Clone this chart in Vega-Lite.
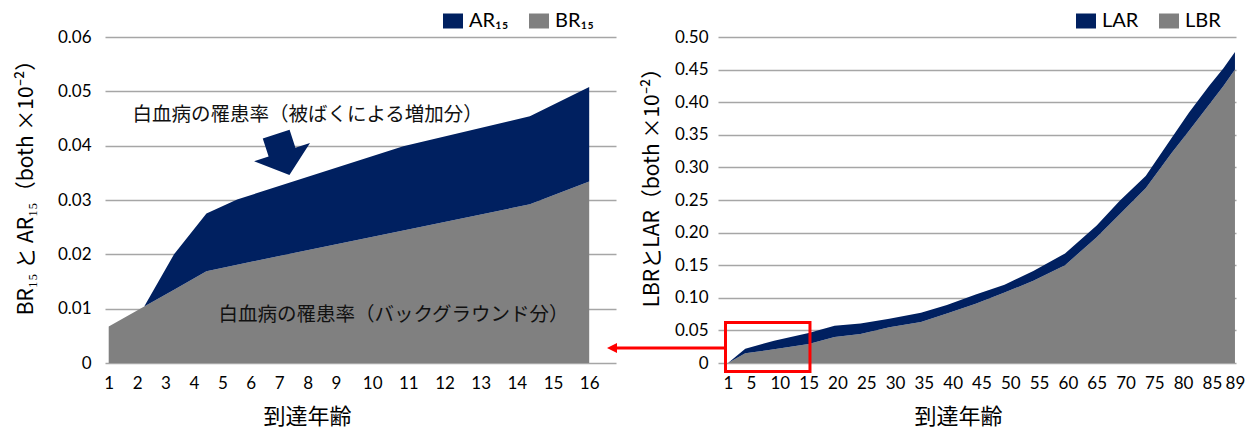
{
  "$schema": "https://vega.github.io/schema/vega-lite/v6.json",
  "background": "white",
  "padding": {"left": 15, "top": 11, "right": 5, "bottom": 5},
  "bounds": "flush",
  "spacing": 102,
  "config": {
    "view": {"stroke": null},
    "font": "Lato",
    "axis": {
      "labelFont": "Lato",
      "labelFontSize": 17,
      "labelColor": "#000000",
      "titleFont": "Noto Sans CJK JP",
      "titleFontWeight": "normal",
      "titleColor": "#000000",
      "gridColor": "#a6a6a6",
      "gridWidth": 1.5,
      "domain": false,
      "ticks": false,
      "tickSize": 0,
      "labelFlush": false,
      "labelOverlap": false
    },
    "legend": {
      "orient": "none",
      "direction": "horizontal",
      "title": null,
      "padding": 0,
      "symbolType": "M-1,-0.75H1V0.75H-1Z",
      "symbolSize": 400,
      "symbolStrokeWidth": 0,
      "symbolOpacity": 1,
      "labelFont": "Lato",
      "labelFontSize": 20,
      "labelColor": "#000000",
      "labelOffset": 6,
      "columnPadding": 20
    }
  },
  "resolve": {"scale": {"color": "independent"}, "legend": {"color": "independent"}},
  "hconcat": [
    {
      "width": 511,
      "height": 326,
      "data": {"values": [
        {"age": 1, "BR": 0.0067, "AR": 0},
        {"age": 2.25, "BR": 0.0104, "AR": 0},
        {"age": 3.3, "BR": 0.0135, "AR": 0.0065},
        {"age": 4.44, "BR": 0.0169, "AR": 0.0106},
        {"age": 5.52, "BR": 0.0181, "AR": 0.0120},
        {"age": 10.86, "BR": 0.0244, "AR": 0.0155},
        {"age": 14.36, "BR": 0.0292, "AR": 0.0162},
        {"age": 16, "BR": 0.0334, "AR": 0.0174}
      ]},
      "layer": [
        {
          "transform": [{"fold": ["BR", "AR"], "as": ["series", "value"]}],
          "mark": {"type": "area", "opacity": 1},
          "encoding": {
            "x": {
              "field": "age", "type": "quantitative",
              "scale": {"domain": [0.87, 1, 9, 16, 16.74], "range": [0, 3.7, 231, 484.2, 511], "nice": false, "zero": false},
              "axis": {
                "values": [1, 2, 3, 4, 5, 6, 7, 8, 9, 10, 11, 12, 13, 14, 15, 16],
                "tickCount": 100,
                "format": "d",
                "labelOverlap": false,
                "grid": false,
                "labelPadding": 12,
                "title": "到達年齢",
                "titleFontSize": 22,
                "titleX": 202,
                "titleY": 53,
                "titleBaseline": "middle"
              }
            },
            "y": {
              "field": "value", "type": "quantitative", "stack": "zero",
              "scale": {"domain": [0, 0.06], "nice": false},
              "axis": {
                "values": [0, 0.01, 0.02, 0.03, 0.04, 0.05, 0.06],
                "tickCount": 100,
                "labelOverlap": false,
                "labelExpr": "datum.value == 0 ? '0' : format(datum.value, '.2f')",
                "labelPadding": 14,
                "title": "BR₁₅ と AR₁₅（both ×10⁻²）",
                "titleFontSize": 21,
                "titleAngle": -90,
                "titleX": -79,
                "titleY": 145,
                "titleBaseline": "middle"
              }
            },
            "color": {
              "field": "series", "type": "nominal",
              "scale": {"domain": ["AR", "BR"], "range": ["#002060", "#808080"]},
              "legend": {"legendX": 338, "legendY": -26, "labelExpr": "datum.label + '₁₅'"}
            },
            "order": {"field": "series", "sort": "descending"}
          }
        },
        {
          "data": {"values": [
            {"age": 8.0, "value": 0.0457, "label": "白血病の罹患率（被ばくによる増加分）"},
            {"age": 10.59, "value": 0.00875, "label": "白血病の罹患率（バックグラウンド分）"}
          ]},
          "mark": {"type": "text", "font": "Noto Sans CJK JP", "fontSize": 19.5, "color": "#111111", "align": "center", "baseline": "middle"},
          "encoding": {
            "x": {"field": "age", "type": "quantitative"},
            "y": {"field": "value", "type": "quantitative"},
            "text": {"field": "label"}
          }
        },
        {
          "data": {"values": [{"age": 7.1, "value": 0.0388}]},
          "mark": {"type": "point", "shape": "M -0.47 -0.63 L 0.47 -0.63 L 0.47 0 L 0.98 0 L 0 0.8 L -0.98 0 L -0.47 0 Z", "filled": true, "size": 3600, "angle": -18, "color": "#002060", "opacity": 1, "strokeWidth": 0},
          "encoding": {
            "x": {"field": "age", "type": "quantitative"},
            "y": {"field": "value", "type": "quantitative"}
          }
        }
      ]
    },
    {
      "width": 518,
      "height": 326,
      "data": {"values": [
        {"age": 1, "LBR": 0, "LAR": 0},
        {"age": 4, "LBR": 0.015, "LAR": 0.007},
        {"age": 9, "LBR": 0.021, "LAR": 0.013},
        {"age": 15, "LBR": 0.029, "LAR": 0.017},
        {"age": 19.5, "LBR": 0.040, "LAR": 0.017},
        {"age": 24, "LBR": 0.0445, "LAR": 0.016},
        {"age": 29, "LBR": 0.055, "LAR": 0.013},
        {"age": 34.5, "LBR": 0.063, "LAR": 0.014},
        {"age": 39, "LBR": 0.076, "LAR": 0.013},
        {"age": 44, "LBR": 0.091, "LAR": 0.014},
        {"age": 49, "LBR": 0.108, "LAR": 0.012},
        {"age": 54, "LBR": 0.126, "LAR": 0.015},
        {"age": 59.5, "LBR": 0.150, "LAR": 0.018},
        {"age": 65, "LBR": 0.193, "LAR": 0.018},
        {"age": 69, "LBR": 0.228, "LAR": 0.021},
        {"age": 73.5, "LBR": 0.268, "LAR": 0.019},
        {"age": 78, "LBR": 0.322, "LAR": 0.023},
        {"age": 81, "LBR": 0.356, "LAR": 0.028},
        {"age": 84.5, "LBR": 0.396, "LAR": 0.029},
        {"age": 87, "LBR": 0.425, "LAR": 0.027},
        {"age": 89, "LBR": 0.450, "LAR": 0.027}
      ]},
      "layer": [
        {
          "transform": [{"fold": ["LBR", "LAR"], "as": ["series", "value"]}],
          "mark": {"type": "area", "opacity": 1},
          "encoding": {
            "x": {
              "field": "age", "type": "quantitative",
              "scale": {"domain": [-0.736, 89.18], "nice": false, "zero": false},
              "axis": {
                "values": [1, 5, 10, 15, 20, 25, 30, 35, 40, 45, 50, 55, 60, 65, 70, 75, 80, 85, 89],
                "tickCount": 100,
                "format": "d",
                "labelOverlap": false,
                "grid": false,
                "labelPadding": 12,
                "title": "到達年齢",
                "titleFontSize": 22,
                "titleX": 240,
                "titleY": 53,
                "titleBaseline": "middle"
              }
            },
            "y": {
              "field": "value", "type": "quantitative", "stack": "zero",
              "scale": {"domain": [0, 0.5], "nice": false},
              "axis": {
                "values": [0, 0.05, 0.1, 0.15, 0.2, 0.25, 0.3, 0.35, 0.4, 0.45, 0.5],
                "tickCount": 100,
                "labelOverlap": false,
                "labelExpr": "datum.value == 0 ? '0' : format(datum.value, '.2f')",
                "labelPadding": 10,
                "title": "LBRとLAR（both ×10⁻²）",
                "titleFontSize": 21,
                "titleAngle": -90,
                "titleX": -66,
                "titleY": 145,
                "titleBaseline": "middle"
              }
            },
            "color": {
              "field": "series", "type": "nominal",
              "scale": {"domain": ["LAR", "LBR"], "range": ["#002060", "#808080"]},
              "legend": {"legendX": 358, "legendY": -26}
            },
            "order": {"field": "series", "sort": "descending"}
          }
        },
        {
          "data": {"values": [{"age": 0.566, "age2": 15.23, "value": -0.013, "value2": 0.0621}]},
          "mark": {"type": "rect", "fillOpacity": 0, "stroke": "#ff0000", "strokeWidth": 3},
          "encoding": {
            "x": {"field": "age", "type": "quantitative"},
            "x2": {"field": "age2"},
            "y": {"field": "value", "type": "quantitative"},
            "y2": {"field": "value2"}
          }
        },
        {
          "data": {"values": [{"age": -19.14, "age2": 0.566, "value": 0.023}]},
          "mark": {"type": "rule", "color": "#ff0000", "strokeWidth": 3},
          "encoding": {
            "x": {"field": "age", "type": "quantitative"},
            "x2": {"field": "age2"},
            "y": {"field": "value", "type": "quantitative"}
          }
        },
        {
          "data": {"values": [{"age": -19.14, "value": 0.023}]},
          "mark": {"type": "point", "shape": "M -1 0 L 1 -1 L 1 1 Z", "filled": true, "size": 100, "color": "#ff0000", "opacity": 1, "strokeWidth": 0},
          "encoding": {
            "x": {"field": "age", "type": "quantitative"},
            "y": {"field": "value", "type": "quantitative"}
          }
        }
      ]
    }
  ]
}
